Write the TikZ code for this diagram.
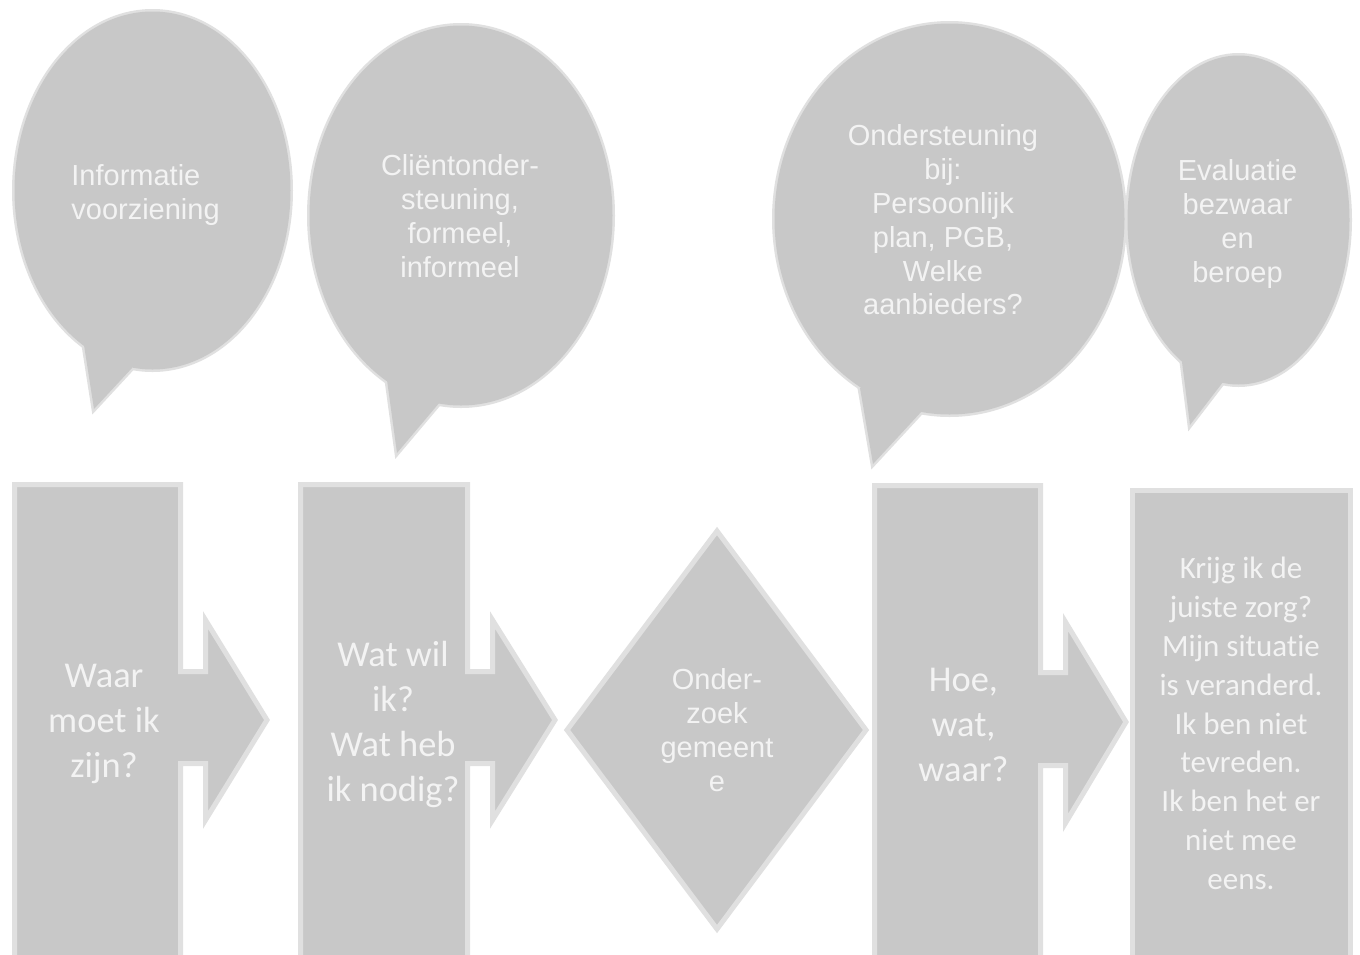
\documentclass[tikz,border=0pt]{standalone}
\usepackage{fontspec}
\setmainfont{Liberation Sans}
\newfontfamily\calfont[Ligatures=CommonOff]{Carlito}
\definecolor{shapefill}{RGB}{200,200,200}
\definecolor{shapeline}{RGB}{224,224,224}
\definecolor{shapetext}{RGB}{243,243,243}
\tikzset{
  rim/.style={draw=shapeline,line width=2.5pt,line join=miter},
  body/.style={fill=shapefill},
  bubbletext/.style={text=shapetext,inner sep=0pt,align=center,font=\fontsize{14.5}{16.9}\selectfont},
  arrowtext/.style={text=shapetext,inner sep=0pt,align=center,font=\calfont\fontsize{18.2}{22.6}\selectfont},
  boxtext/.style={text=shapetext,inner sep=0pt,align=center,font=\calfont\fontsize{15.5}{19.4}\selectfont}
}
\begin{document}
\begin{tikzpicture}[x=0.5pt,y=-0.5pt]
\useasboundingbox (0,0) rectangle (1360,954);
\clip (0,0) rectangle (1360,954);
\fill[white] (0,0) rectangle (1360,954);
% ---------- bubbles ----------
\def\bubA{(152.5,190.5) ellipse [x radius=138,y radius=179]}
\def\tailA{(84,345) -- (94,409) -- (132,368) -- (120,330) -- cycle}
\def\bubB{(461,215.5) ellipse [x radius=151.5,y radius=190]}
\def\tailB{(387,380) -- (397,453) -- (440,402) -- (430,370) -- cycle}
\def\bubC{(949.5,219) ellipse [x radius=175,y radius=195.5]}
\def\tailC{(860,388) -- (873,464) -- (922,411) -- (900,370) -- cycle}
\def\bubD{(1238.5,220) ellipse [x radius=111,y radius=164.5]}
\def\tailD{(1182,362) -- (1190,425) -- (1223,382) -- (1210,350) -- cycle}
\foreach \p in {\bubA,\tailA,\bubB,\tailB,\bubC,\tailC,\bubD,\tailD} {\draw[rim] \p;}
\foreach \p in {\bubA,\tailA,\bubB,\tailB,\bubC,\tailC,\bubD,\tailD} {\fill[body] \p;}
% ---------- arrows ----------
\draw[rim,body] (14.5,984) -- (14.5,484.5) -- (180.5,484.5) -- (180.5,671.5) -- (205.5,671.5)
  -- (205.5,620) -- (267,720) -- (205.5,820) -- (205.5,763.5) -- (180.5,763.5) -- (180.5,984) -- cycle;
\draw[rim,body] (300.5,984) -- (300.5,484.5) -- (467.5,484.5) -- (467.5,671.5) -- (492.5,671.5)
  -- (492.5,620) -- (555,720) -- (492.5,820) -- (492.5,763.5) -- (467.5,763.5) -- (467.5,984) -- cycle;
\draw[rim,body] (717,531) -- (866,730) -- (717,929) -- (567,730) -- cycle;
\draw[rim,body] (874.5,984) -- (874.5,485.5) -- (1040.5,485.5) -- (1040.5,672.5) -- (1065.5,672.5)
  -- (1065.5,622) -- (1126,722) -- (1065.5,823) -- (1065.5,765.5) -- (1040.5,765.5) -- (1040.5,984) -- cycle;
\draw[rim,body] (1132.5,984) -- (1132.5,490.5) -- (1350.5,490.5) -- (1350.5,984) -- cycle;
% ---------- texts ----------
\node[bubbletext,align=left,anchor=west] (tA) at (71,195) {Informatie\\voorziening};
\node[bubbletext] (tB) at (460,216) {Cliëntonder-\\steuning,\\formeel,\\informeel};
\node[bubbletext] (tC) at (943,220) {Ondersteuning\\bij:\\Persoonlijk\\plan, PGB,\\Welke\\aanbieders?};
\node[bubbletext] (tD) at (1237.5,224) {Evaluatie\\bezwaar\\en\\beroep};
\node[arrowtext] (a1) at (104,724) {Waar\\moet ik\\zijn?};
\node[arrowtext] (a2) at (393,724.5) {Wat wil\\ik?\\Wat heb\\ik nodig?};
\node[bubbletext] (dm) at (717,730) {Onder-\\zoek\\gemeent\\e};
\node[arrowtext] (a3) at (963.5,725) {Hoe,\\wat,\\waar?};
\node[boxtext] (b4) at (1241,723.5) {Krijg ik de\\juiste zorg?\\Mijn situatie\\is veranderd.\\Ik ben niet\\tevreden.\\Ik ben het er\\niet mee\\eens.};
\end{tikzpicture}
\end{document}
